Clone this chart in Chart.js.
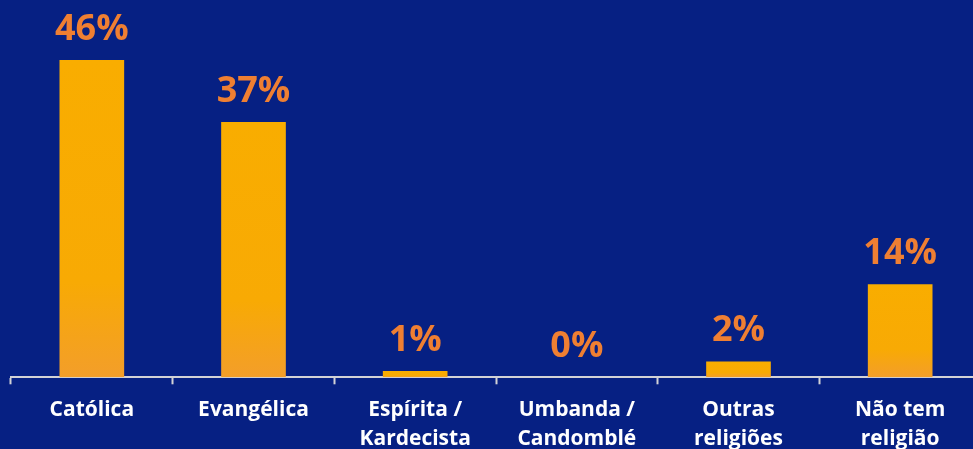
<!DOCTYPE html>
<html>
<head>
<meta charset="utf-8">
<script src="https://cdn.jsdelivr.net/npm/chart.js@4"></script>
<style>
  html, body { margin: 0; padding: 0; background: #062083; overflow: hidden; }
  #wrap { width: 981px; height: 465px; }
</style>
</head>
<body>
<div id="wrap"><canvas id="myChart"></canvas></div>
<script>
// data
const categories = [
  "Católica",
  "Evangélica",
  ["Espírita /", "Kardecista"],
  ["Umbanda /", "Candomblé"],
  ["Outras", "religiões"],
  ["Não tem", "religião"],
];
const values = [46, 37, 0.9, 0, 2.3, 13.5];
const valueLabels = ["46%", "37%", "1%", "0%", "2%", "14%"];

Chart.defaults.font.family = "'Open Sans', 'DejaVu Sans', sans-serif";
Chart.defaults.color = "#ffffff";

// draws the % labels above each bar
const barLabels = {
  id: "barLabels",
  afterDatasetsDraw(chart) {
    const ctx = chart.ctx;
    const meta = chart.getDatasetMeta(0);
    ctx.save();
    ctx.font = "bold 36px 'Open Sans', 'DejaVu Sans', sans-serif";
    ctx.fillStyle = "#ef7f32";
    ctx.textAlign = "center";
    ctx.textBaseline = "alphabetic";
    meta.data.forEach((bar, i) => {
      ctx.fillText(valueLabels[i], bar.x, bar.y - 20);
    });
    ctx.restore();
  },
};

function barGradient(context) {
  const chart = context.chart;
  const y = chart.scales.y;
  if (!chart.chartArea || !y) return "#f8ad00";
  const top = y.getPixelForValue(values[context.dataIndex]);
  const base = y.getPixelForValue(0);
  if (base - top < 1) return "#f8ad00";
  const g = chart.ctx.createLinearGradient(0, top, 0, base);
  g.addColorStop(0, "#f9ad00");
  g.addColorStop(0.7, "#f8aa04");
  g.addColorStop(1, "#f39e2a");
  return g;
}

new Chart(document.getElementById("myChart"), {
  type: "bar",
  data: {
    labels: categories,
    datasets: [
      {
        data: values,
        backgroundColor: barGradient,
        borderWidth: 0,
        barPercentage: 1,
        categoryPercentage: 0.4,
      },
    ],
  },
  options: {
    responsive: true,
    maintainAspectRatio: false,
    animation: false,
    layout: { padding: { left: 11, right: 0, top: 0, bottom: 0 } },
    plugins: {
      legend: { display: false },
      tooltip: { enabled: false },
    },
    scales: {
      x: {
        grid: {
          offset: true,
          drawOnChartArea: false,
          drawTicks: true,
          tickLength: 7,
          tickWidth: 2,
          color: "#d2d2d6",
        },
        border: { display: true, color: "#d2d2d6", width: 2 },
        ticks: {
          color: "#ffffff",
          padding: 12,
          maxRotation: 0,
          autoSkip: false,
          font: { size: 21, weight: "bold", lineHeight: 1.35 },
        },
      },
      y: {
        display: false,
        min: 0,
        max: 54.7,
      },
    },
  },
  plugins: [barLabels],
});
</script>
</body>
</html>
